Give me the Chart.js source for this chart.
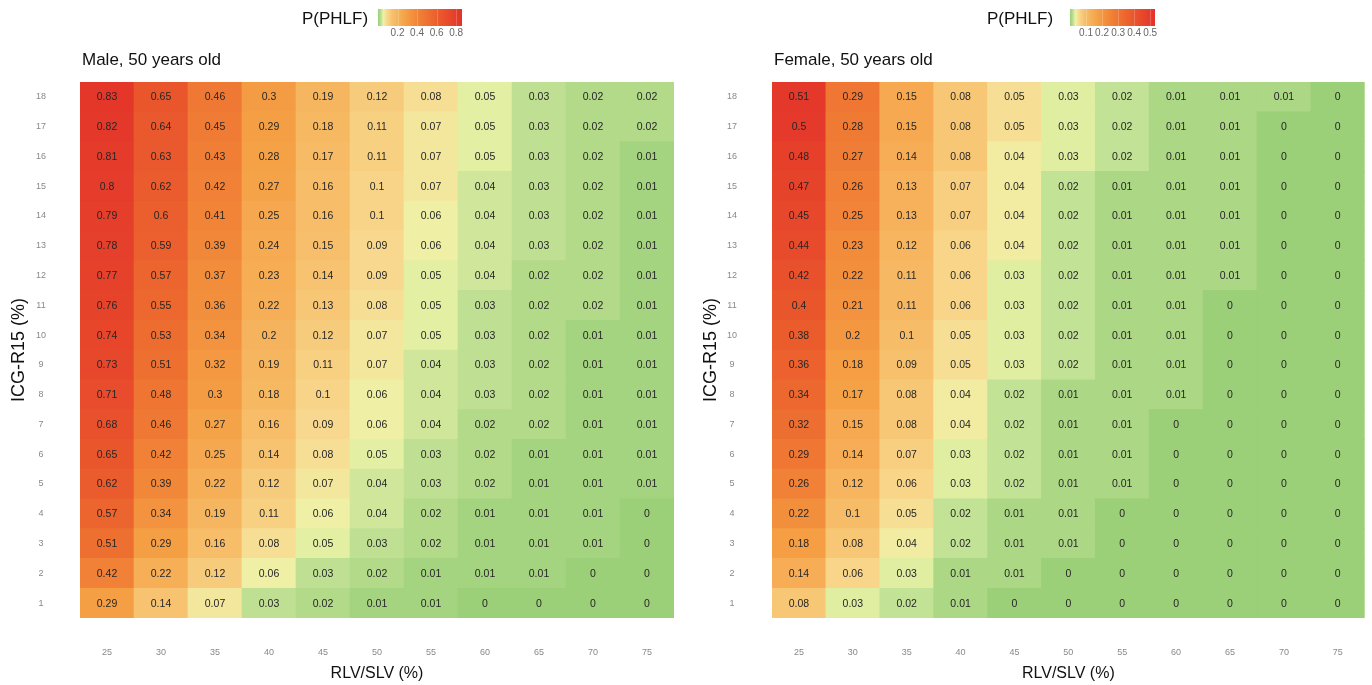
<!DOCTYPE html>
<html lang="en">
<head>
  <meta charset="UTF-8" />
  <title>P(PHLF) heatmaps</title>
  <script src="https://cdn.jsdelivr.net/npm/chart.js"></script>
  <style>
    body { margin: 0; background: #fff; font-family: "Liberation Sans", Arial, sans-serif; }
    .wrap { position: relative; width: 1372px; height: 685px; overflow: hidden; }
    canvas { position: absolute; top: 0; }
    .txt { position: absolute; white-space: nowrap; color: #111; line-height: 1; font-size: 17px; }
    .cbar { position: absolute; top: 9px; height: 17px; }
    .cb-tick { position: absolute; top: 28px; font-size: 10px; color: #666; line-height: 1; transform: translateX(-50%); }
    .cb-line { position: absolute; top: 9px; height: 17px; width: 1px; background: rgba(255,255,255,0.2); }
  </style>
</head>
<body>
<div class="wrap" id="wrap">
  <canvas id="maleChart" width="686" height="685" style="left:0"></canvas>
  <canvas id="femaleChart" width="686" height="685" style="left:686px"></canvas>

  <div class="txt" style="left:82px;top:51px">Male, 50 years old</div>
  <div class="txt" style="left:774px;top:51px">Female, 50 years old</div>
  <div class="txt" style="left:302px;top:10px">P(PHLF)</div>
  <div class="txt" style="left:987px;top:10px">P(PHLF)</div>
</div>

<script>
  // columns (x) and rows (y, listed top to bottom as in the picture)
  const rlvSlv = ['25', '30', '35', '40', '45', '50', '55', '60', '65', '70', '75'];
  const icgR15 = ['18', '17', '16', '15', '14', '13', '12', '11', '10', '9', '8', '7', '6', '5', '4', '3', '2', '1'];

  const maleP = [
    [0.83, 0.65, 0.46, 0.3, 0.19, 0.12, 0.08, 0.05, 0.03, 0.02, 0.02],
    [0.82, 0.64, 0.45, 0.29, 0.18, 0.11, 0.07, 0.05, 0.03, 0.02, 0.02],
    [0.81, 0.63, 0.43, 0.28, 0.17, 0.11, 0.07, 0.05, 0.03, 0.02, 0.01],
    [0.8, 0.62, 0.42, 0.27, 0.16, 0.1, 0.07, 0.04, 0.03, 0.02, 0.01],
    [0.79, 0.6, 0.41, 0.25, 0.16, 0.1, 0.06, 0.04, 0.03, 0.02, 0.01],
    [0.78, 0.59, 0.39, 0.24, 0.15, 0.09, 0.06, 0.04, 0.03, 0.02, 0.01],
    [0.77, 0.57, 0.37, 0.23, 0.14, 0.09, 0.05, 0.04, 0.02, 0.02, 0.01],
    [0.76, 0.55, 0.36, 0.22, 0.13, 0.08, 0.05, 0.03, 0.02, 0.02, 0.01],
    [0.74, 0.53, 0.34, 0.2, 0.12, 0.07, 0.05, 0.03, 0.02, 0.01, 0.01],
    [0.73, 0.51, 0.32, 0.19, 0.11, 0.07, 0.04, 0.03, 0.02, 0.01, 0.01],
    [0.71, 0.48, 0.3, 0.18, 0.1, 0.06, 0.04, 0.03, 0.02, 0.01, 0.01],
    [0.68, 0.46, 0.27, 0.16, 0.09, 0.06, 0.04, 0.02, 0.02, 0.01, 0.01],
    [0.65, 0.42, 0.25, 0.14, 0.08, 0.05, 0.03, 0.02, 0.01, 0.01, 0.01],
    [0.62, 0.39, 0.22, 0.12, 0.07, 0.04, 0.03, 0.02, 0.01, 0.01, 0.01],
    [0.57, 0.34, 0.19, 0.11, 0.06, 0.04, 0.02, 0.01, 0.01, 0.01, 0],
    [0.51, 0.29, 0.16, 0.08, 0.05, 0.03, 0.02, 0.01, 0.01, 0.01, 0],
    [0.42, 0.22, 0.12, 0.06, 0.03, 0.02, 0.01, 0.01, 0.01, 0, 0],
    [0.29, 0.14, 0.07, 0.03, 0.02, 0.01, 0.01, 0, 0, 0, 0]
  ];

  const femaleP = [
    [0.51, 0.29, 0.15, 0.08, 0.05, 0.03, 0.02, 0.01, 0.01, 0.01, 0],
    [0.5, 0.28, 0.15, 0.08, 0.05, 0.03, 0.02, 0.01, 0.01, 0, 0],
    [0.48, 0.27, 0.14, 0.08, 0.04, 0.03, 0.02, 0.01, 0.01, 0, 0],
    [0.47, 0.26, 0.13, 0.07, 0.04, 0.02, 0.01, 0.01, 0.01, 0, 0],
    [0.45, 0.25, 0.13, 0.07, 0.04, 0.02, 0.01, 0.01, 0.01, 0, 0],
    [0.44, 0.23, 0.12, 0.06, 0.04, 0.02, 0.01, 0.01, 0.01, 0, 0],
    [0.42, 0.22, 0.11, 0.06, 0.03, 0.02, 0.01, 0.01, 0.01, 0, 0],
    [0.4, 0.21, 0.11, 0.06, 0.03, 0.02, 0.01, 0.01, 0, 0, 0],
    [0.38, 0.2, 0.1, 0.05, 0.03, 0.02, 0.01, 0.01, 0, 0, 0],
    [0.36, 0.18, 0.09, 0.05, 0.03, 0.02, 0.01, 0.01, 0, 0, 0],
    [0.34, 0.17, 0.08, 0.04, 0.02, 0.01, 0.01, 0.01, 0, 0, 0],
    [0.32, 0.15, 0.08, 0.04, 0.02, 0.01, 0.01, 0, 0, 0, 0],
    [0.29, 0.14, 0.07, 0.03, 0.02, 0.01, 0.01, 0, 0, 0, 0],
    [0.26, 0.12, 0.06, 0.03, 0.02, 0.01, 0.01, 0, 0, 0, 0],
    [0.22, 0.1, 0.05, 0.02, 0.01, 0.01, 0, 0, 0, 0, 0],
    [0.18, 0.08, 0.04, 0.02, 0.01, 0.01, 0, 0, 0, 0, 0],
    [0.14, 0.06, 0.03, 0.01, 0.01, 0, 0, 0, 0, 0, 0],
    [0.08, 0.03, 0.02, 0.01, 0, 0, 0, 0, 0, 0, 0]
  ];

  // colour scale top value and legend ticks per panel
  const maleScaleMax = 0.86;
  const femaleScaleMax = 0.53;
  const maleBarTicks = [0.2, 0.4, 0.6, 0.8];
  const femaleBarTicks = [0.1, 0.2, 0.3, 0.4, 0.5];

  // green -> pale yellow -> orange -> red, on value / scaleMax
  const colourStops = [
    [0, '#9bcf78'],
    [0.015, '#a8d582'],
    [0.04, '#c5e397'],
    [0.065, '#eef3a8'],
    [0.1, '#f8da90'],
    [0.17, '#f7c06c'],
    [0.33, '#f5a045'],
    [0.5, '#f07f35'],
    [0.7, '#eb5e2d'],
    [1, '#e3322a']
  ];

  function hexRgb(h) {
    return [parseInt(h.slice(1, 3), 16), parseInt(h.slice(3, 5), 16), parseInt(h.slice(5, 7), 16)];
  }

  function colourFor(v, max) {
    const t = Math.min(Math.max(v / max, 0), 1);
    for (let i = 1; i < colourStops.length; i++) {
      const [t1, c1] = colourStops[i];
      const [t0, c0] = colourStops[i - 1];
      if (t <= t1) {
        const f = (t - t0) / (t1 - t0);
        const a = hexRgb(c0), b = hexRgb(c1);
        const c = a.map((x, k) => Math.round(x + (b[k] - x) * f));
        return 'rgb(' + c.join(',') + ')';
      }
    }
    return colourStops[colourStops.length - 1][1];
  }

  // writes the number into each cell
  const cellLabels = {
    id: 'cellLabels',
    afterDatasetsDraw(chart) {
      const ctx = chart.ctx;
      ctx.save();
      ctx.font = '10.5px "Liberation Sans", Arial, sans-serif';
      ctx.fillStyle = '#262626';
      ctx.textAlign = 'center';
      ctx.textBaseline = 'middle';
      chart.data.datasets.forEach((ds, di) => {
        chart.getDatasetMeta(di).data.forEach((bar, i) => {
          const p = bar.getCenterPoint();
          ctx.fillText(String(ds.values[i]), p.x, p.y + 0.5);
        });
      });
      ctx.restore();
    }
  };

  function makeHeatmap(id, values, scaleMax, o) {
    const rowsUp = icgR15.slice().reverse();
    const datasets = rowsUp.map((row, k) => {
      const vals = values[icgR15.length - 1 - k];
      return {
        label: row,
        data: rlvSlv.map(() => 1),
        values: vals,
        backgroundColor: vals.map(v => colourFor(v, scaleMax)),
        borderWidth: 0,
        barPercentage: 1,
        categoryPercentage: 1,
        stack: 'cells'
      };
    });

    return new Chart(document.getElementById(id), {
      type: 'bar',
      data: { labels: rlvSlv, datasets: datasets },
      plugins: [cellLabels],
      options: {
        responsive: false,
        animation: false,
        devicePixelRatio: 1,
        layout: { padding: { top: 82, right: o.right, bottom: 0, left: 0 } },
        plugins: { legend: { display: false }, tooltip: { enabled: false } },
        scales: {
          x: {
            stacked: true,
            grid: { display: false, drawTicks: false },
            border: { display: false },
            ticks: { color: '#888', font: { size: 9, family: '"Liberation Sans", Arial' }, padding: 29, maxRotation: 0 },
            title: { display: true, text: 'RLV/SLV (%)', color: '#111', font: { size: 16, family: '"Liberation Sans", Arial' }, padding: { top: 0, bottom: 2 } },
            afterFit: s => { s.height = 67; }
          },
          y: {
            stacked: true,
            min: 0,
            max: icgR15.length,
            grid: { display: false, drawTicks: false },
            border: { display: false },
            afterBuildTicks: s => { s.ticks = rowsUp.map((r, i) => ({ value: i + 0.5 })); },
            ticks: {
              autoSkip: false,
              crossAlign: 'center',
              color: '#888',
              font: { size: 9, family: '"Liberation Sans", Arial' },
              padding: o.tickPad,
              callback: (v, i) => rowsUp[i]
            },
            title: { display: true, text: 'ICG-R15 (%)', color: '#111', font: { size: 18, family: '"Liberation Sans", Arial' }, padding: { top: o.titlePad, bottom: 0 } },
            afterFit: s => { s.width = o.yWidth; }
          }
        }
      }
    });
  }

  makeHeatmap('maleChart', maleP, maleScaleMax, { right: 12, yWidth: 80, tickPad: 34, titlePad: 8 });
  makeHeatmap('femaleChart', femaleP, femaleScaleMax, { right: 5, yWidth: 86, tickPad: 35, titlePad: 14 });

  // colour bars next to P(PHLF)
  function colourBar(left, width, scaleMax, ticks) {
    const wrap = document.getElementById('wrap');
    const bar = document.createElement('div');
    bar.className = 'cbar';
    bar.style.left = left + 'px';
    bar.style.width = width + 'px';
    bar.style.background = 'linear-gradient(to right,' +
      colourStops.map(s => s[1] + ' ' + (s[0] * 100).toFixed(1) + '%').join(',') + ')';
    wrap.appendChild(bar);
    ticks.forEach(t => {
      const x = left + t / scaleMax * width;
      const line = document.createElement('div');
      line.className = 'cb-line';
      line.style.left = Math.round(x) + 'px';
      wrap.appendChild(line);
      const lab = document.createElement('div');
      lab.className = 'cb-tick';
      lab.style.left = x + 'px';
      lab.textContent = String(t);
      wrap.appendChild(lab);
    });
  }

  colourBar(378, 84, maleScaleMax, maleBarTicks);
  colourBar(1070, 85, femaleScaleMax, femaleBarTicks);
</script>
</body>
</html>
